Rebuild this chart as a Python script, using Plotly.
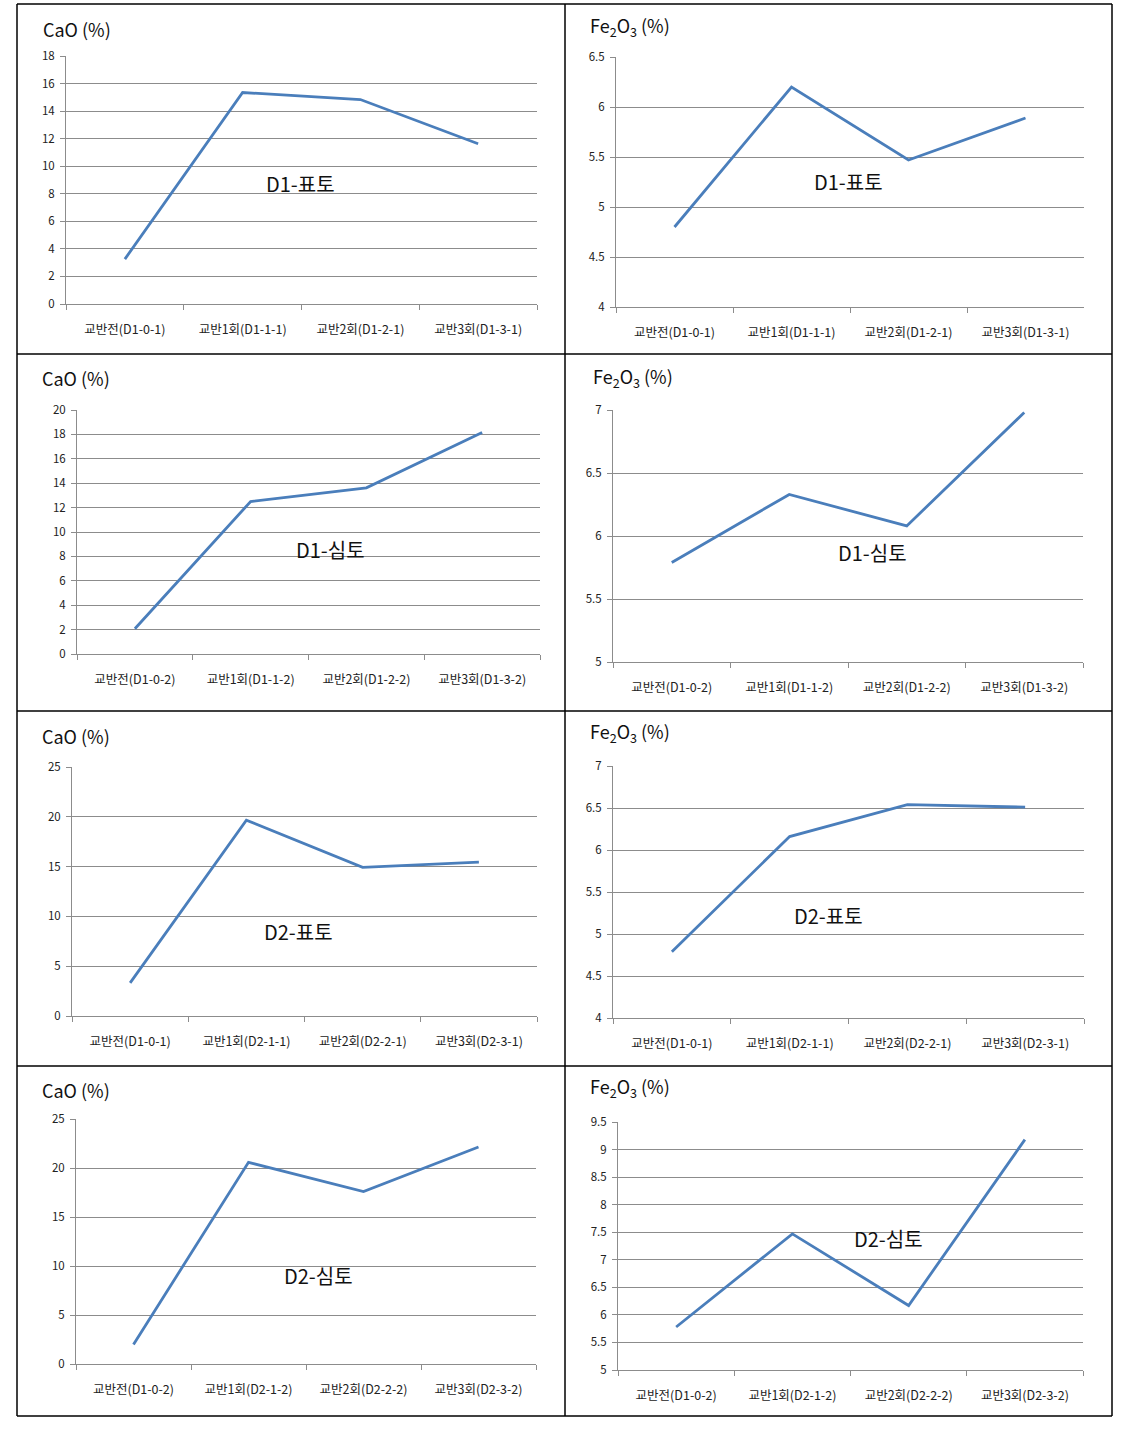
import plotly.graph_objects as go

W, H = 1136, 1429

# ---------------- data ----------------
cat_d1_s = ["교반전(D1-0-1)", "교반1회(D1-1-1)", "교반2회(D1-2-1)", "교반3회(D1-3-1)"]
cat_d1_d = ["교반전(D1-0-2)", "교반1회(D1-1-2)", "교반2회(D1-2-2)", "교반3회(D1-3-2)"]
cat_d2_s = ["교반전(D1-0-1)", "교반1회(D2-1-1)", "교반2회(D2-2-1)", "교반3회(D2-3-1)"]
cat_d2_d = ["교반전(D1-0-2)", "교반1회(D2-1-2)", "교반2회(D2-2-2)", "교반3회(D2-3-2)"]

cao_d1_s = [3.26, 15.35, 14.84, 11.63]
fe_d1_s = [4.80, 6.20, 5.47, 5.89]
cao_d1_d = [2.07, 12.5, 13.62, 18.15]
fe_d1_d = [5.79, 6.33, 6.08, 6.98]
cao_d2_s = [3.32, 19.66, 14.93, 15.44]
fe_d2_s = [4.79, 6.16, 6.54, 6.51]
cao_d2_d = [2.0, 20.58, 17.59, 22.14]
fe_d2_d = [5.78, 7.47, 6.17, 9.18]

labels = ["D1-표토", "D1-표토", "D1-심토", "D1-심토", "D2-표토", "D2-표토", "D2-심토", "D2-심토"]
titles = ["CaO (%)", "Fe<sub>2</sub>O<sub>3</sub> (%)"] * 4

# ---------------- layout specs (pixels) ----------------
panels = [
    # cats, vals, yrange, dtick, left, right, top, bottom, title(x,y), label(x,y)
    (cat_d1_s, cao_d1_s, [0, 18], 2, 66, 537, 56, 304, (41, 29), (300, 184)),
    (cat_d1_s, fe_d1_s, [4, 6.5], 0.5, 616, 1084, 57, 307, (588, 27), (848, 182)),
    (cat_d1_d, cao_d1_d, [0, 20], 2, 77, 540, 410, 654, (40, 378), (331, 549)),
    (cat_d1_d, fe_d1_d, [5, 7], 0.5, 613, 1083, 410, 662, (591, 377), (872, 552)),
    (cat_d2_s, cao_d2_s, [0, 25], 5, 72, 537, 767, 1016, (40, 736), (298, 931)),
    (cat_d2_s, fe_d2_s, [4, 7], 0.5, 613, 1084, 766, 1018, (588, 732), (828, 915)),
    (cat_d2_d, cao_d2_d, [0, 25], 5, 76, 536, 1119, 1364, (40, 1090), (318, 1275)),
    (cat_d2_d, fe_d2_d, [5, 9.5], 0.5, 618, 1083, 1122, 1370, (588, 1087), (888, 1238)),
]

FONT = "Noto Sans CJK KR, Noto Sans, sans-serif"
LINE = "#4A7EBB"
GRID = "#8C8C8C"

fig = go.Figure()
annotations = []
shapes = []

def px(x):
    return x / W

def py(y):
    return 1 - y / H

for i, (cats, vals, yr, dt, l, r, t, b, tpos, lpos) in enumerate(panels):
    n = i + 1
    xa = "x" if n == 1 else f"x{n}"
    ya = "y" if n == 1 else f"y{n}"
    fig.add_trace(go.Scatter(x=cats, y=vals, mode="lines", xaxis=xa, yaxis=ya,
                             line=dict(color=LINE, width=2.8), showlegend=False,
                             hoverinfo="x+y"))
    xkey = "xaxis" if n == 1 else f"xaxis{n}"
    ykey = "yaxis" if n == 1 else f"yaxis{n}"
    fig.layout[xkey] = dict(
        domain=[px(l), px(r)], anchor=ya, type="category",
        categoryorder="array", categoryarray=cats, automargin=False,
        range=[-0.5, 3.5], showgrid=False, showline=True, linecolor=GRID, linewidth=1,
        ticks="outside", tickson="boundaries", ticklen=5, tickcolor=GRID,
        tickfont=dict(family=FONT, size=12.5, color="#222"), ticklabelstandoff=14,
        zeroline=False, fixedrange=True,
    )
    fig.layout[ykey] = dict(
        domain=[py(b), py(t)], anchor=xa, range=yr, dtick=dt, tick0=yr[0],
        automargin=False,
        showgrid=True, gridcolor=GRID, gridwidth=1, showline=True, linecolor=GRID,
        linewidth=1, ticks="outside", ticklen=5, tickcolor=GRID,
        tickfont=dict(family=FONT, size=11.5, color="#222"), zeroline=False,
        fixedrange=True, ticklabelstandoff=3,
    )
    annotations.append(dict(text=titles[i], x=px(tpos[0]), y=py(tpos[1]), xref="paper",
                            yref="paper", xanchor="left", yanchor="middle", showarrow=False,
                            font=dict(family=FONT, size=18, color="#111")))
    annotations.append(dict(text=labels[i], x=px(lpos[0]), y=py(lpos[1]), xref="paper",
                            yref="paper", xanchor="center", yanchor="middle", showarrow=False,
                            font=dict(family=FONT, size=20, color="#111")))

# table borders
for xv in [17, 565, 1112]:
    shapes.append(dict(type="line", xref="paper", yref="paper", x0=px(xv), x1=px(xv),
                       y0=py(4), y1=py(1416), line=dict(color="black", width=1.5)))
for yv in [4, 354, 711, 1066, 1416]:
    shapes.append(dict(type="line", xref="paper", yref="paper", x0=px(17), x1=px(1112),
                       y0=py(yv), y1=py(yv), line=dict(color="black", width=1.5)))

fig.update_layout(width=W, height=H, margin=dict(l=0, r=0, t=0, b=0, pad=0, autoexpand=False),
                  paper_bgcolor="white", plot_bgcolor="white",
                  annotations=annotations, shapes=shapes,
                  font=dict(family=FONT))

fig.write_html("out.html", config={"displayModeBar": False},
               post_script="document.body.style.margin='0';document.body.style.overflow='hidden';")
